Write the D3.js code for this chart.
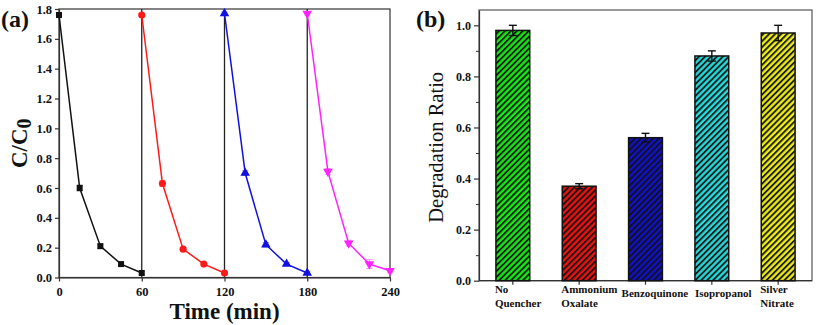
<!DOCTYPE html>
<html>
<head>
<meta charset="utf-8">
<script src="https://cdn.jsdelivr.net/npm/d3@7"></script>
<style>
  body { margin: 0; background: #fff; }
  svg text { font-family: "Liberation Serif", "Times New Roman", serif; }
</style>
</head>
<body>
<div id="chart"></div>
<script>
// panel (a): C/C0 over four cycles
const timeTicks = [0, 60, 120, 180, 240];
const cycleTimes = [
  [0, 15, 30, 45, 60],
  [60, 75, 90, 105, 120],
  [120, 135, 150, 165, 180],
  [180, 195, 210, 225, 240]
];
const cycle1 = [1.76, 0.60, 0.21, 0.09, 0.03];
const cycle2 = [1.76, 0.63, 0.19, 0.09, 0.03];
const cycle3 = [1.77, 0.70, 0.22, 0.09, 0.03];
const cycle4 = [1.77, 0.71, 0.23, 0.09, 0.045];
const cycleErr1 = [0.01, 0.02, 0.015, 0.01, 0.01];
const cycleErr2 = [0.01, 0.02, 0.01, 0.01, 0.01];
const cycleErr3 = [0.01, 0.015, 0.015, 0.01, 0.01];
const cycleErr4 = [0.01, 0.02, 0.02, 0.03, 0.01];
const cycleColors = ['#111111', '#ff1a1a', '#1010e0', '#ff22ff'];

// panel (b): quenchers
const quenchers = ['No Quencher', 'Ammonium Oxalate', 'Benzoquinone', 'Isopropanol', 'Silver Nitrate'];
const quencherLines = [['No', 'Quencher'], ['Ammonium', 'Oxalate'], ['Benzoquinone'], ['Isopropanol'], ['Silver', 'Nitrate']];
const ratios = [0.98, 0.37, 0.56, 0.88, 0.97];
const ratioErr = [0.02, 0.01, 0.017, 0.02, 0.03];
const barColors = ['#11ee11', '#ee1111', '#1111cc', '#22dddd', '#eeee11'];

const serif = '"Liberation Serif", "Times New Roman", serif';

const svg = d3.select('#chart')
  .append('svg')
  .attr('width', 816)
  .attr('height', 325);

// ---------- panel (a) ----------
const xA = d3.scaleLinear().domain([0, 240]).range([59, 390]);
const yA = d3.scaleLinear().domain([0, 1.8]).range([277.5, 9]);

const gA = svg.append('g');

gA.append('rect')
  .attr('x', xA(0)).attr('y', yA(1.8))
  .attr('width', xA(240) - xA(0)).attr('height', yA(0) - yA(1.8))
  .attr('fill', 'none').attr('stroke', '#333').attr('stroke-width', 1.2);

gA.selectAll('.sep')
  .data([60, 120, 180])
  .enter().append('line')
  .attr('x1', d => xA(d)).attr('x2', d => xA(d))
  .attr('y1', yA(0)).attr('y2', yA(1.8))
  .attr('stroke', '#222').attr('stroke-width', 1.3);

const axA_x = gA.append('g')
  .attr('transform', `translate(0,${yA(0)})`)
  .call(d3.axisBottom(xA).tickValues(timeTicks).tickFormat(d3.format('d')).tickSize(4).tickSizeOuter(0));
const axA_y = gA.append('g')
  .attr('transform', `translate(${xA(0)},0)`)
  .call(d3.axisLeft(yA).ticks(9).tickFormat(d3.format('.1f')).tickSize(4).tickSizeOuter(0));

[axA_x, axA_y].forEach(ax => {
  ax.attr('font-family', serif).attr('font-size', 12.5).attr('font-weight', 'bold');
  ax.selectAll('path, line').attr('stroke', '#333').attr('stroke-width', 1.2);
  ax.selectAll('text').attr('fill', '#111');
});
axA_x.selectAll('text').attr('dy', '0.95em');

const symbols = [
  d3.symbol().type(d3.symbolSquare).size(36),
  d3.symbol().type(d3.symbolCircle).size(40),
  d3.symbol().type(d3.symbolTriangle).size(40),
  d3.symbol().type(d3.symbolTriangle).size(40)
];
const allCycles = [cycle1, cycle2, cycle3, cycle4];
const allErr = [cycleErr1, cycleErr2, cycleErr3, cycleErr4];

allCycles.forEach((vals, i) => {
  const pts = vals.map((v, j) => ({ t: cycleTimes[i][j], v: v, e: allErr[i][j] }));
  const col = cycleColors[i];
  const g = gA.append('g');
  g.append('path')
    .datum(pts)
    .attr('fill', 'none')
    .attr('stroke', col)
    .attr('stroke-width', 1.5)
    .attr('d', d3.line().x(d => xA(d.t)).y(d => yA(d.v)));
  const eb = g.selectAll('.err').data(pts).enter().append('g').attr('stroke', col).attr('stroke-width', 0.8).attr('opacity', 0.6);
  eb.append('line')
    .attr('x1', d => xA(d.t)).attr('x2', d => xA(d.t))
    .attr('y1', d => yA(d.v - d.e)).attr('y2', d => yA(d.v + d.e));
  eb.append('line')
    .attr('x1', d => xA(d.t) - 3).attr('x2', d => xA(d.t) + 3)
    .attr('y1', d => yA(d.v + d.e)).attr('y2', d => yA(d.v + d.e));
  eb.append('line')
    .attr('x1', d => xA(d.t) - 3).attr('x2', d => xA(d.t) + 3)
    .attr('y1', d => yA(d.v - d.e)).attr('y2', d => yA(d.v - d.e));
  g.selectAll('.pt').data(pts).enter().append('path')
    .attr('d', symbols[i])
    .attr('fill', col)
    .attr('transform', d => `translate(${xA(d.t)},${yA(d.v)})` + (i === 3 ? ' rotate(180)' : ''));
});

gA.append('text')
  .attr('transform', `translate(27,${(yA(0) + yA(1.8)) / 2}) rotate(-90)`)
  .attr('text-anchor', 'middle')
  .attr('font-size', 23).attr('font-weight', 'bold').attr('fill', '#111')
  .text('C/C')
  .append('tspan').attr('dy', 4).attr('font-size', 20).text('0');

gA.append('text')
  .attr('x', (xA(0) + xA(240)) / 2).attr('y', 319)
  .attr('text-anchor', 'middle')
  .attr('font-size', 23).attr('font-weight', 'bold').attr('fill', '#111')
  .text('Time (min)');

svg.append('text')
  .attr('x', 1).attr('y', 27)
  .attr('font-size', 24).attr('font-weight', 'bold').attr('fill', '#111')
  .text('(a)');

// ---------- panel (b) ----------
const xB = d3.scaleBand().domain(quenchers).range([479, 812]).paddingInner(0.49).paddingOuter(0.255);
const yB = d3.scaleLinear().domain([0, 1.06]).range([280.7, 10]);

const defs = svg.append('defs');
barColors.forEach((c, i) => {
  const p = defs.append('pattern')
    .attr('id', 'hatch' + i)
    .attr('patternUnits', 'userSpaceOnUse')
    .attr('width', 4.2).attr('height', 4.2)
    .attr('patternTransform', 'rotate(45)');
  p.append('rect').attr('width', 4.2).attr('height', 4.2).attr('fill', c);
  p.append('line').attr('x1', 1).attr('x2', 1).attr('y1', 0).attr('y2', 4.2)
    .attr('stroke', '#111').attr('stroke-width', 1.8);
});

const gB = svg.append('g');

gB.append('rect')
  .attr('x', 479).attr('y', yB(1.06))
  .attr('width', 812 - 479).attr('height', yB(0) - yB(1.06))
  .attr('fill', 'none').attr('stroke', '#555').attr('stroke-width', 1.2);

const axB_y = gB.append('g')
  .attr('transform', 'translate(479,0)')
  .call(d3.axisLeft(yB).tickValues(d3.range(0, 1.01, 0.2)).tickFormat(d3.format('.1f')).tickSize(5).tickSizeOuter(0));
gB.append('g')
  .attr('transform', 'translate(479,0)')
  .call(d3.axisLeft(yB).tickValues(d3.range(0.1, 1.01, 0.2)).tickFormat('').tickSize(3).tickSizeOuter(0))
  .call(g => g.select('.domain').remove())
  .selectAll('line').attr('stroke', '#333').attr('stroke-width', 1);
const axB_x = gB.append('g')
  .attr('transform', `translate(0,${yB(0)})`)
  .call(d3.axisBottom(xB).tickFormat('').tickSize(4).tickSizeOuter(0));
axB_x.select('.domain').attr('d', `M479,0H812`);

[axB_x, axB_y].forEach(ax => {
  ax.selectAll('path, line').attr('stroke', '#333').attr('stroke-width', 1.2);
});
axB_y.attr('font-family', serif).attr('font-size', 12).attr('font-weight', 'bold');
axB_y.selectAll('text').attr('fill', '#111');

gB.selectAll('.bar')
  .data(quenchers)
  .enter().append('rect')
  .attr('x', d => xB(d))
  .attr('y', (d, i) => yB(ratios[i]))
  .attr('width', xB.bandwidth())
  .attr('height', (d, i) => yB(0) - yB(ratios[i]))
  .attr('fill', (d, i) => `url(#hatch${i})`)
  .attr('stroke', '#111').attr('stroke-width', 1.5);

const errB = gB.selectAll('.errb').data(quenchers).enter().append('g')
  .attr('stroke', '#111').attr('stroke-width', 1.4);
errB.append('line')
  .attr('x1', d => xB(d) + xB.bandwidth() / 2).attr('x2', d => xB(d) + xB.bandwidth() / 2)
  .attr('y1', (d, i) => yB(ratios[i] - ratioErr[i])).attr('y2', (d, i) => yB(ratios[i] + ratioErr[i]));
errB.append('line')
  .attr('x1', d => xB(d) + xB.bandwidth() / 2 - 4).attr('x2', d => xB(d) + xB.bandwidth() / 2 + 4)
  .attr('y1', (d, i) => yB(ratios[i] + ratioErr[i])).attr('y2', (d, i) => yB(ratios[i] + ratioErr[i]));
errB.append('line')
  .attr('x1', d => xB(d) + xB.bandwidth() / 2 - 4).attr('x2', d => xB(d) + xB.bandwidth() / 2 + 4)
  .attr('y1', (d, i) => yB(ratios[i] - ratioErr[i])).attr('y2', (d, i) => yB(ratios[i] - ratioErr[i]));

const lbl = gB.selectAll('.qlabel').data(quenchers).enter().append('text')
  .attr('y', (d, i) => quencherLines[i].length > 1 ? 293 : 297)
  .attr('font-size', 11).attr('font-weight', 'bold').attr('fill', '#111');
lbl.each(function (d, i) {
  const t = d3.select(this);
  const x0 = xB(d) + (quencherLines[i].length > 1 ? -1 : (i === 2 ? -7 : 0));
  quencherLines[i].forEach((s, k) => {
    t.append('tspan').attr('x', x0).attr('dy', k === 0 ? 0 : 14).text(s);
  });
});

gB.append('text')
  .attr('transform', `translate(443,${(yB(0) + yB(1.06)) / 2 + 2}) rotate(-90)`)
  .attr('text-anchor', 'middle')
  .attr('font-size', 20.5).attr('fill', '#111')
  .text('Degradation Ratio');

svg.append('text')
  .attr('x', 416).attr('y', 27)
  .attr('font-size', 24).attr('font-weight', 'bold').attr('fill', '#111')
  .text('(b)');
</script>
</body>
</html>
